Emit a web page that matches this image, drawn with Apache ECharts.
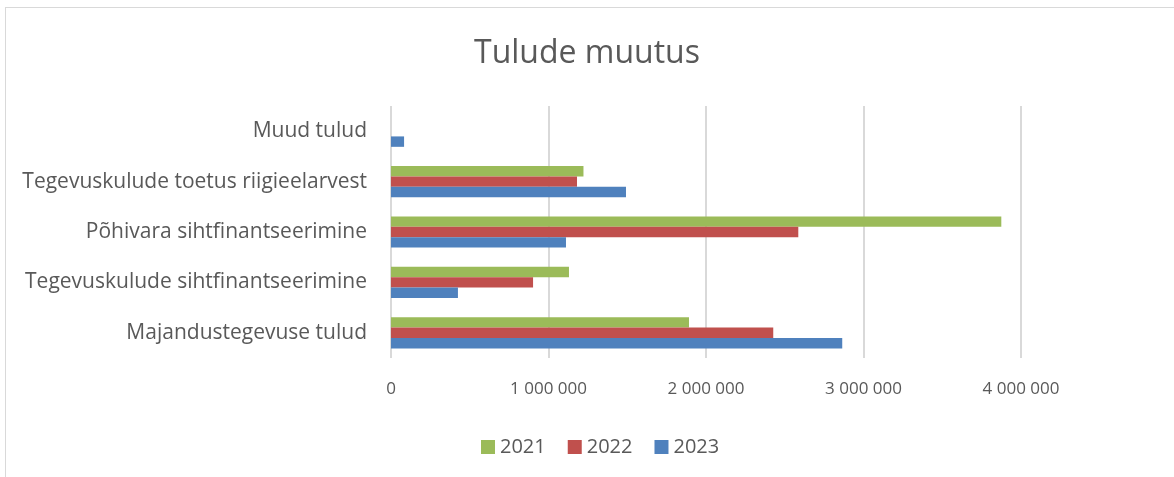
<!DOCTYPE html>
<html lang="et">
<head>
    <meta charset="utf-8">
    <title>Tulude muutus</title>
    <style>
        html, body { margin: 0; padding: 0; overflow: hidden; background: #fff; }
        #frame { position: absolute; left: 5px; top: 7px; width: 1400px; height: 700px; border: 1px solid #d9d9d9; }
        #main { position: absolute; left: 0; top: 0; width: 1174px; height: 477px; }
    </style>
</head>
<body>
    <div id="frame"></div>
    <div id="main"></div>

    <script src="https://cdn.jsdelivr.net/npm/echarts@6/dist/echarts.min.js"></script>
    <script type="text/javascript">
        // andmed (alt üles)
        var categories = ['Majandustegevuse tulud', 'Tegevuskulude sihtfinantseerimine', 'Põhivara sihtfinantseerimine', 'Tegevuskulude toetus riigieelarvest', 'Muud tulud'];
        var years = ['2021', '2022', '2023'];
        var data2021 = [1892000, 1130000, 3875000, 1222000, 0];
        var data2022 = [2427000, 902000, 2586000, 1181000, 0];
        var data2023 = [2865000, 425000, 1111000, 1492000, 83000];
        var colors = ['#9BBB59', '#C0504D', '#4F81BD'];

        var fontName = 'Open Sans';
        var textColor = '#595959';

        function fmt(v) {
            return String(v).replace(/\B(?=(\d{3})+(?!\d))/g, ' ');
        }

        var myChart = echarts.init(document.getElementById('main'));

        var seriesData = [data2021, data2022, data2023];
        var series = [];
        for (var i = 0; i < years.length; i++) {
            series.push({
                name: years[i],
                type: 'bar',
                data: seriesData[i],
                barGap: 0,
                barCategoryGap: '38%',
                itemStyle: { color: colors[i] }
            });
        }

        var option = {
            animation: false,
            title: {
                text: 'Tulude muutus',
                left: 'center',
                top: 33,
                textStyle: { color: textColor, fontFamily: fontName, fontSize: 32, fontWeight: 'normal' }
            },
            legend: {
                data: years,
                top: 432,
                left: 476,
                itemWidth: 14,
                itemHeight: 14,
                itemGap: 22,
                icon: 'rect',
                textStyle: { color: textColor, fontFamily: fontName, fontSize: 20 }
            },
            grid: {
                left: 391,
                right: 153,
                top: 106,
                bottom: 119
            },
            xAxis: {
                type: 'value',
                min: 0,
                max: 4000000,
                interval: 1000000,
                axisLine: { show: false },
                axisTick: { show: false },
                splitLine: { lineStyle: { color: '#d9d9d9', width: 2 } },
                axisLabel: {
                    color: textColor,
                    fontFamily: fontName,
                    fontSize: 17,
                    margin: 23,
                    formatter: fmt
                }
            },
            yAxis: {
                type: 'category',
                data: categories,
                axisLine: { show: false },
                axisTick: { show: false },
                axisLabel: {
                    color: textColor,
                    fontFamily: fontName,
                    fontSize: 21,
                    margin: 24
                }
            },
            series: series
        };
        myChart.setOption(option);
    </script>
</body>
</html>
